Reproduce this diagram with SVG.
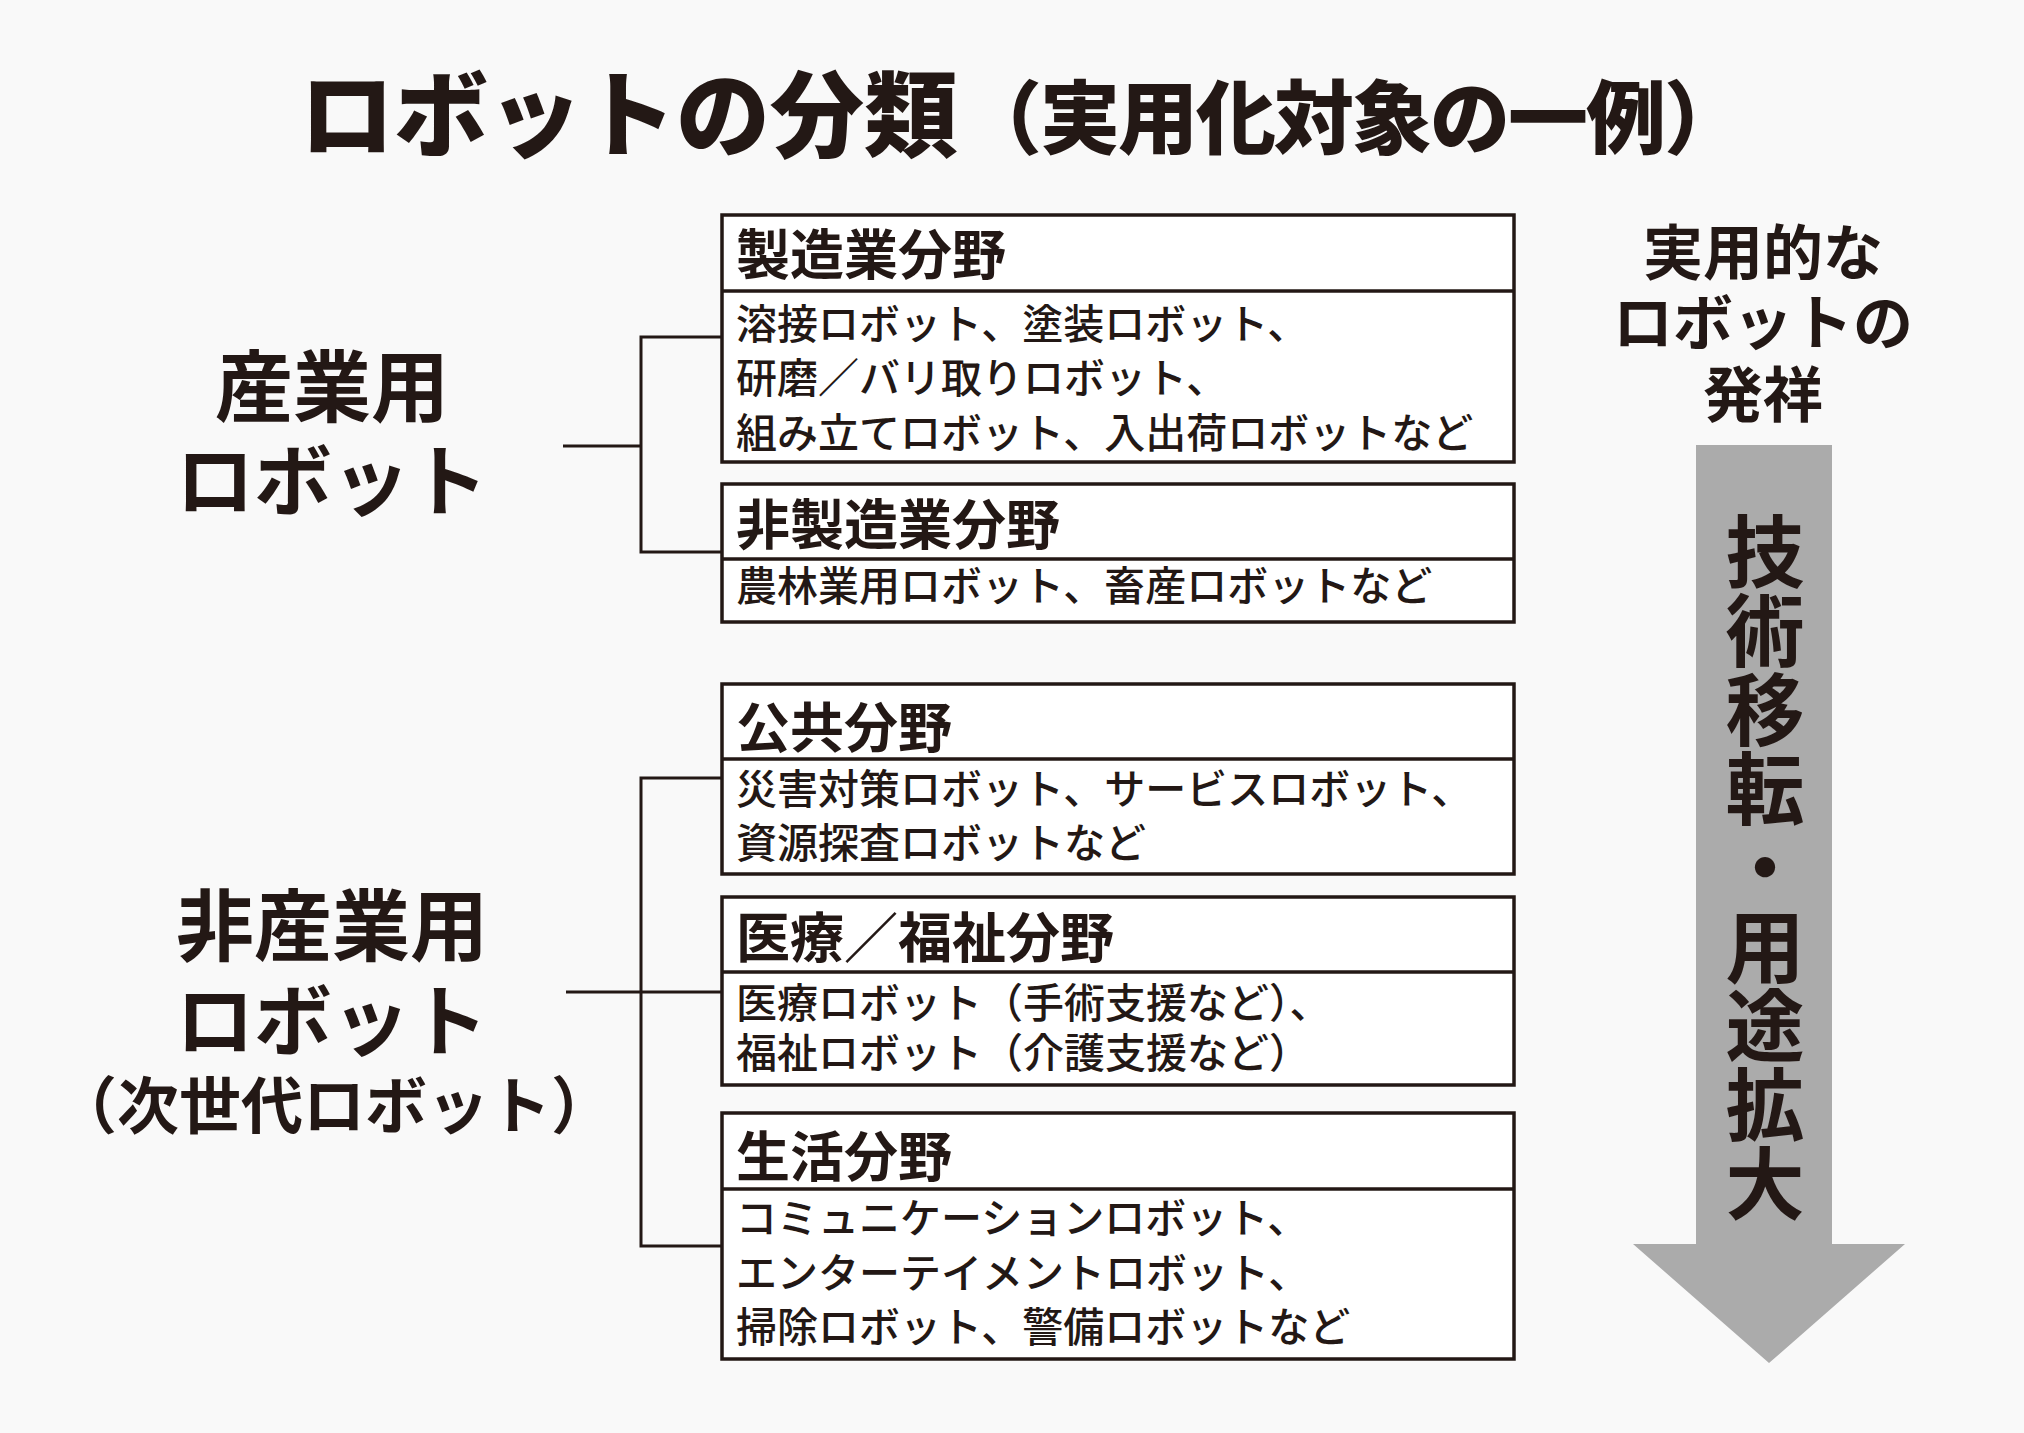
<svg xmlns="http://www.w3.org/2000/svg" width="2024" height="1433" viewBox="0 0 2024 1433">
<style>
text{font-family:"Noto Sans CJK JP","Noto Sans CJK SC",sans-serif;fill:#231815}
.title{font-weight:900}
.lbl{font-size:78px;font-weight:700;text-anchor:middle}
.sub{font-size:62px;font-weight:700;text-anchor:middle}
.hd{font-size:54px;font-weight:700}
.bd{font-size:41px;font-weight:500}
.rt{font-size:60px;font-weight:700;text-anchor:middle}
.vt{font-size:79px;font-weight:700;writing-mode:vertical-rl}
.box{fill:#ffffff;stroke:#231815;stroke-width:3.5}
.div{stroke:#231815;stroke-width:3.5}
.con{fill:none;stroke:#231815;stroke-width:3}
</style>
<rect x="0" y="0" width="2024" height="1433" fill="#f9f9f9"/>
<g id="title">
<text class="title" x="300" y="150" font-size="94">ロボットの分類</text>
<text class="title" x="962" y="147" font-size="80" letter-spacing="-2">（実用化対象の一例）</text>
</g>
<g id="industrial">
<text class="lbl" x="332" y="416">産業用</text>
<text class="lbl" x="332" y="510">ロボット</text>
</g>
<g id="nonindustrial">
<text class="lbl" x="332" y="955">非産業用</text>
<text class="lbl" x="332" y="1050">ロボット</text>
<text class="sub" x="334" y="1129">（次世代ロボット）</text>
</g>
<g id="connectors">
<path class="con" d="M563,446 H641 M722,337 H641 V552 H722"/>
<path class="con" d="M566,992 H722 M722,778 H641 V1246 H722"/>
</g>
<g id="manufacturing">
<rect class="box" x="722" y="215" width="792" height="247"/>
<line class="div" x1="722" y1="291" x2="1514" y2="291"/>
<text class="hd" x="736" y="275">製造業分野</text>
<text class="bd" x="736" y="339">溶接ロボット、塗装ロボット、</text>
<text class="bd" x="736" y="393">研磨／バリ取りロボット、</text>
<text class="bd" x="736" y="448">組み立てロボット、入出荷ロボットなど</text>
</g>
<g id="nonmanufacturing">
<rect class="box" x="722" y="484" width="792" height="138"/>
<line class="div" x1="722" y1="559" x2="1514" y2="559"/>
<text class="hd" x="736" y="545">非製造業分野</text>
<text class="bd" x="736" y="601">農林業用ロボット、畜産ロボットなど</text>
</g>
<g id="public">
<rect class="box" x="722" y="684" width="792" height="190"/>
<line class="div" x1="722" y1="759" x2="1514" y2="759"/>
<text class="hd" x="736" y="748">公共分野</text>
<text class="bd" x="736" y="804">災害対策ロボット、サービスロボット、</text>
<text class="bd" x="736" y="858">資源探査ロボットなど</text>
</g>
<g id="medical">
<rect class="box" x="722" y="897" width="792" height="188"/>
<line class="div" x1="722" y1="972" x2="1514" y2="972"/>
<text class="hd" x="736" y="958">医療／福祉分野</text>
<text class="bd" x="736" y="1018">医療ロボット（手術支援など）、</text>
<text class="bd" x="736" y="1068">福祉ロボット（介護支援など）</text>
</g>
<g id="life">
<rect class="box" x="722" y="1113" width="792" height="246"/>
<line class="div" x1="722" y1="1189" x2="1514" y2="1189"/>
<text class="hd" x="736" y="1177">生活分野</text>
<text class="bd" x="736" y="1233">コミュニケーションロボット、</text>
<text class="bd" x="736" y="1288">エンターテイメントロボット、</text>
<text class="bd" x="736" y="1342">掃除ロボット、警備ロボットなど</text>
</g>
<g id="origin">
<text class="rt" x="1763" y="275">実用的な</text>
<text class="rt" x="1763" y="345">ロボットの</text>
<text class="rt" x="1763" y="417">発祥</text>
</g>
<g id="arrow">
<polygon points="1696,445 1832,445 1832,1244 1905,1244 1769,1363 1633,1244 1696,1244" fill="#ababab"/>
<text class="vt" x="1765" y="512">技術移転・用途拡大</text>
</g>
</svg>
